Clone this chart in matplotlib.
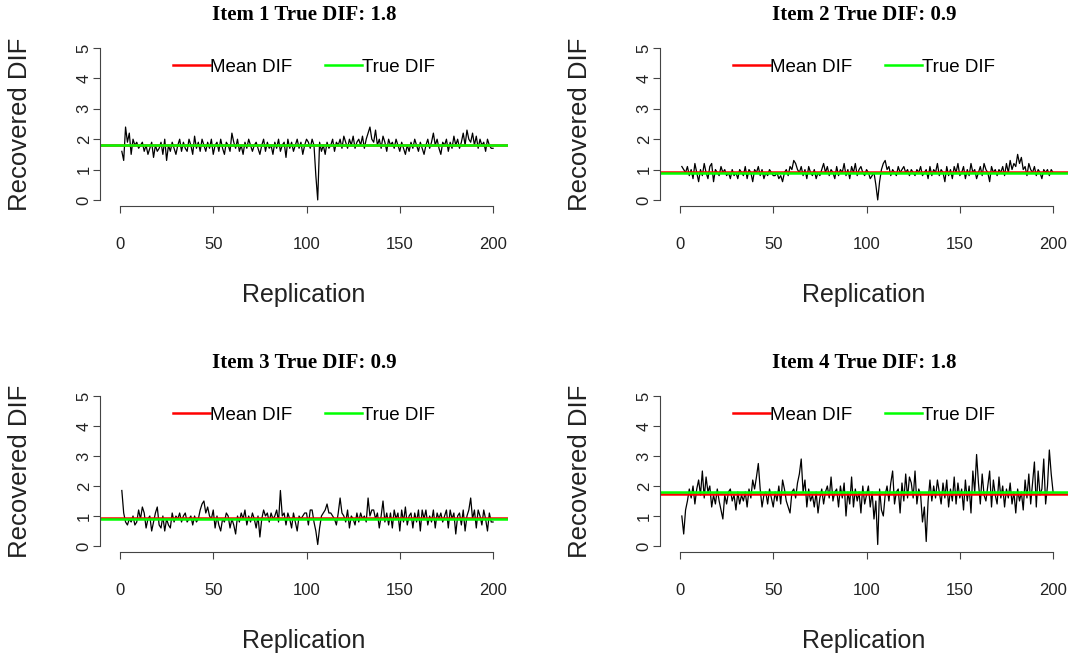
import numpy as np
import matplotlib
matplotlib.use('Agg')
import matplotlib.pyplot as plt

plt.rcParams['font.family'] = ['Liberation Sans', 'DejaVu Sans']

reps = np.arange(1, 201)  # replication number
true_dif = [1.8, 0.9, 0.9, 1.8]
titles = ['Item 1 True DIF: 1.8', 'Item 2 True DIF: 0.9',
          'Item 3 True DIF: 0.9', 'Item 4 True DIF: 1.8']

# recovered DIF per replication
item1 = [1.6, 1.3, 2.4, 1.9, 2.2, 1.5, 2.0, 1.8, 1.9, 1.7,
         1.8, 1.9, 1.6, 1.8, 1.5, 1.7, 1.9, 1.4, 1.8, 1.6,
         1.7, 1.9, 1.5, 2.0, 1.3, 1.8, 1.6, 1.9, 1.7, 1.5,
         1.8, 2.0, 1.6, 1.9, 1.7, 1.6, 2.0, 1.8, 1.5, 2.1,
         1.7, 1.9, 1.6, 2.0, 1.8, 1.6, 1.9, 1.7, 2.0, 1.5,
         1.8, 1.9, 1.6, 2.0, 1.7, 1.5, 1.9, 1.8, 1.6, 2.2,
         1.9, 1.7, 2.0, 1.6, 1.8, 1.5, 1.9, 1.7, 2.0, 1.8,
         1.6, 1.8, 1.9, 1.7, 1.5, 1.8, 2.0, 1.6, 1.9, 1.7,
         1.8, 1.5, 1.9, 1.7, 2.0, 1.6, 1.8, 1.9, 1.4, 2.0,
         1.7, 1.9, 1.6, 1.8, 2.0, 1.7, 1.9, 1.5, 1.8, 2.0,
         1.9, 1.7, 2.0, 1.8, 0.8, 0.0, 1.9, 1.6, 1.8, 1.5,
         1.9, 1.7, 1.8, 2.0, 1.6, 1.9, 1.8, 2.0, 1.7, 2.1,
         1.9, 1.7, 2.0, 1.8, 2.1, 1.7, 1.9, 2.0, 1.8, 2.1,
         1.7, 2.0, 2.2, 2.4, 2.0, 1.9, 2.3, 1.8, 2.0, 1.7,
         2.1, 1.9, 1.6, 2.0, 1.8, 1.9, 1.7, 2.0, 1.8, 1.6,
         1.9, 1.7, 1.5, 1.8, 1.6, 1.9, 1.7, 2.0, 1.8, 1.6,
         1.9, 1.7, 1.5, 1.8, 2.0, 1.7, 1.9, 2.2, 1.8, 2.0,
         1.7, 1.5, 1.9, 1.8, 2.0, 1.6, 1.9, 1.7, 2.1, 1.8,
         2.0, 1.7, 1.9, 2.2, 1.8, 2.3, 2.0, 1.9, 2.2, 1.8,
         2.1, 1.7, 2.0, 1.8, 1.9, 1.6, 2.0, 1.8, 1.7, 1.7]

item2 = [1.1, 1.0, 0.9, 1.1, 0.8, 1.0, 0.7, 1.2, 0.9, 0.6,
         1.0, 0.8, 1.2, 0.9, 0.7, 1.1, 1.2, 0.6, 1.0, 0.9,
         0.8, 1.1, 0.9, 1.0, 0.8, 0.9, 0.7, 1.0, 0.8, 0.9,
         0.7, 1.0, 0.9, 0.8, 1.1, 0.7, 1.0, 0.9, 0.6, 1.0,
         0.9, 1.1, 0.8, 1.0, 0.7, 0.9, 0.8, 1.0, 0.9, 0.8,
         0.8, 0.9, 0.7, 0.8, 0.6, 0.9, 1.0, 0.8, 1.1, 1.0,
         1.3, 1.2, 1.0, 0.9, 1.1, 0.8, 1.0, 0.7, 1.1, 0.9,
         0.8, 1.0, 0.7, 0.9, 0.8, 1.0, 1.2, 0.9, 1.1, 0.8,
         1.0, 0.9, 0.7, 1.1, 0.8, 1.0, 0.9, 1.2, 0.8, 1.0,
         0.7, 1.1, 0.9, 1.2, 0.8, 1.0, 1.1, 0.9, 0.8, 1.0,
         0.9, 0.7, 0.8, 0.9, 0.5, 0.0, 0.6, 1.0, 1.2, 1.3,
         1.0, 1.1, 0.8, 1.0, 0.9, 0.8, 1.1, 0.9, 1.0, 1.1,
         0.9, 1.0, 0.8, 1.0, 0.9, 0.8, 1.0, 0.9, 1.1, 0.8,
         0.9, 1.0, 0.7, 1.1, 0.8, 1.0, 0.9, 1.2, 0.8, 1.0,
         0.9, 0.6, 1.1, 0.8, 1.0, 0.7, 1.1, 0.9, 1.2, 0.8,
         0.9, 1.1, 0.7, 1.0, 0.8, 1.2, 0.9, 1.0, 0.7, 0.9,
         1.1, 0.8, 1.2, 1.0, 0.9, 0.6, 1.1, 0.9, 1.0, 0.8,
         1.0, 0.9, 1.1, 0.8, 1.2, 0.9, 1.3, 1.0, 1.2, 1.1,
         1.5, 1.2, 1.4, 1.0, 1.1, 0.8, 1.2, 1.0, 0.9, 1.1,
         0.8, 1.0, 0.9, 0.7, 1.0, 0.9, 1.0, 0.8, 1.0, 0.9]

item3 = [1.85, 1.1, 0.8, 0.7, 0.9, 0.8, 1.0, 0.7, 0.8, 1.2,
         0.9, 1.3, 1.1, 0.6, 0.9, 1.0, 0.5, 0.8, 1.1, 1.3,
         0.7, 0.6, 1.0, 0.5, 0.9, 0.7, 0.6, 1.1, 0.8, 1.0,
         0.9, 1.1, 0.8, 1.0, 1.1, 0.8, 0.9, 1.0, 0.7, 1.0,
         0.8, 0.9, 1.2, 1.4, 1.5, 1.1, 1.3, 1.0, 0.9, 1.2,
         0.6, 1.0, 0.7, 0.5, 0.9, 0.8, 1.1, 1.0, 0.6, 0.9,
         0.7, 0.4, 1.0, 0.8, 1.1, 0.9, 1.2, 0.7, 1.0, 0.8,
         1.1, 0.9, 0.6, 1.0, 0.3, 0.9, 1.2, 1.0, 1.1, 0.8,
         1.1, 0.9, 1.0, 1.2, 0.8, 1.85, 1.0, 1.1, 0.7, 1.1,
         0.9, 0.6, 1.1, 0.8, 0.5, 1.0, 0.9, 1.0, 1.1, 1.1,
         0.7, 1.2, 1.2, 0.8, 0.5, 0.05, 0.6, 1.0, 1.1, 1.2,
         1.4, 1.1, 1.1, 1.0, 0.9, 0.7, 1.1, 1.6, 1.1, 1.0,
         0.8, 1.2, 0.6, 1.0, 0.9, 0.7, 1.1, 0.8, 1.1, 0.9,
         1.0, 0.8, 1.6, 1.0, 1.2, 1.2, 0.9, 1.1, 0.6, 1.0,
         1.5, 0.8, 1.1, 0.7, 1.1, 0.6, 1.2, 0.9, 1.1, 0.5,
         1.2, 0.8, 1.3, 0.7, 1.0, 1.1, 0.6, 1.1, 0.8, 1.2,
         0.5, 1.2, 0.9, 1.2, 0.7, 1.0, 0.8, 1.2, 0.6, 1.1,
         0.9, 1.1, 0.8, 1.0, 1.2, 0.6, 1.2, 0.9, 1.1, 0.4,
         1.0, 1.1, 0.7, 1.2, 0.5, 1.0, 1.2, 1.6, 0.9, 1.2,
         0.6, 1.2, 1.0, 0.7, 1.2, 0.9, 0.5, 1.1, 0.8, 0.8]

item4 = [1.0, 0.4, 1.2, 1.5, 1.9, 1.6, 2.0, 1.4, 1.9, 2.2,
         1.7, 2.5, 1.6, 2.3, 1.8, 2.0, 1.3, 1.7, 1.4, 1.9,
         1.5, 1.2, 0.9, 1.7, 1.4, 1.8, 1.9, 1.5, 1.7, 1.2,
         1.8, 1.4, 1.7, 1.5, 1.8, 1.3, 1.9, 1.6, 2.2, 1.9,
         2.3, 2.75, 1.9, 1.3, 1.7, 1.8, 1.4, 1.9, 1.6, 1.3,
         1.8, 1.5, 2.0, 1.4, 2.2, 1.9, 1.5, 1.3, 1.1, 1.8,
         1.9, 1.6, 2.1, 2.4, 2.9, 1.8, 2.2, 1.3, 1.9, 1.5,
         1.7, 1.3, 1.8, 1.1, 1.6, 1.9, 1.4, 1.8, 2.0, 1.6,
         2.3, 1.5, 1.8, 1.9, 1.3, 2.0, 1.6, 2.1, 1.0, 1.8,
         1.4, 2.3, 1.3, 1.9, 1.5, 1.8, 1.1, 2.0, 1.4, 1.7,
         2.0, 1.3, 1.8, 0.9, 1.5, 0.05, 1.9, 1.2, 1.0, 1.7,
         2.0, 1.5, 2.1, 2.5, 1.4, 1.8, 1.9, 1.1, 2.1, 1.5,
         2.4, 1.6, 2.3, 2.1, 1.6, 2.5, 1.4, 1.9, 1.7, 0.8,
         1.3, 0.15, 1.5, 2.2, 1.5, 2.0, 1.6, 2.2, 1.8, 1.4,
         2.1, 1.6, 2.2, 1.3, 1.9, 1.5, 2.3, 1.4, 2.1, 1.6,
         1.9, 1.2, 2.2, 1.5, 2.0, 1.1, 2.5, 1.8, 3.05, 2.1,
         1.4, 2.4, 1.7, 1.5, 2.0, 2.5, 1.3, 2.2, 1.7, 1.4,
         2.3, 1.6, 2.0, 1.3, 1.9, 1.6, 2.1, 1.4, 1.8, 1.1,
         1.9, 1.5, 1.8, 1.2, 2.2, 1.6, 2.4, 1.4, 2.1, 2.8,
         1.3, 2.5, 1.7, 1.9, 2.9, 1.4, 2.0, 3.2, 2.4, 1.8]

items = [item1, item2, item3, item4]

fig = plt.figure(figsize=(10.74, 6.58), dpi=100)
# axes boxes in pixels: left, top, right, bottom
boxes = [(100, 42, 508, 206), (660, 42, 1068, 206),
         (100, 390, 508, 552), (660, 390, 1068, 552)]
txt = '#222222'

for k in range(4):
    l, t, r, b = boxes[k]
    w, h = r - l, b - t
    ax = fig.add_axes([l/1074, 1 - b/658, w/1074, h/658])
    y = np.array(items[k])
    ax.plot(reps, y, color='black', lw=0.9)
    ax.axhline(np.mean(y), color='#ff0000', lw=1.8, label='Mean DIF')
    ax.axhline(true_dif[k], color='#00ff00', lw=1.8, label='True DIF')
    ax.set_xlim(-10.7, 208)
    ax.set_ylim(-0.2, 5.2)
    ax.set_xticks([0, 50, 100, 150, 200])
    ax.set_yticks([0, 1, 2, 3, 4, 5])
    for s in ['top', 'right']:
        ax.spines[s].set_visible(False)
    ax.spines['left'].set_bounds(0, 5)
    ax.spines['bottom'].set_bounds(0, 200)
    for s in ['left', 'bottom']:
        ax.spines[s].set_color('#444444')
        ax.spines[s].set_linewidth(0.8)
    ax.tick_params(colors='#444444', labelcolor=txt, labelsize=12,
                   length=5, width=0.8)
    ax.tick_params(axis='x', pad=17)
    ax.tick_params(axis='y', pad=1)
    for lab in ax.get_yticklabels():
        lab.set_rotation(90)
        lab.set_va('center')
    ax.set_xlabel('Replication', fontsize=18, color=txt, va='center')
    ax.xaxis.set_label_coords(0.5, -89 / h)
    ax.set_ylabel('Recovered DIF', fontsize=18.5, color=txt, va='center')
    ax.yaxis.set_label_coords(-80 / w, 0.5)
    ax.text(0.5, 1 + 27/h, titles[k], transform=ax.transAxes,
            ha='center', va='center', family='Liberation Serif',
            fontweight='bold', fontsize=15)
    ax.legend(loc='center', bbox_to_anchor=(0.5, 1 - 25/h), ncol=2,
              frameon=False, fontsize=13.5, handlelength=2.0,
              handletextpad=0.0, columnspacing=1.7)

fig.savefig('out.png', dpi=100)
